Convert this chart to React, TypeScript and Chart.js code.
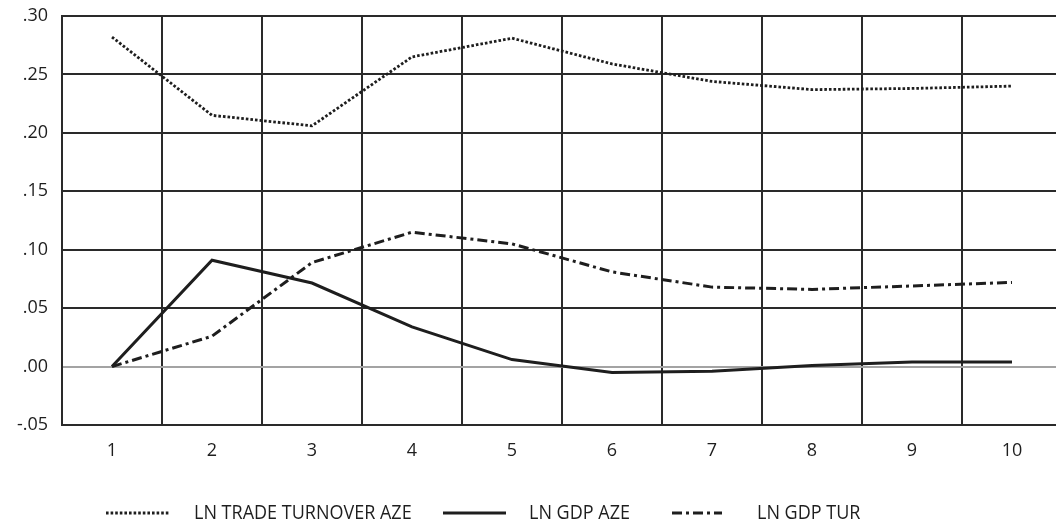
import React, { useEffect, useRef } from "react";
import { Chart, registerables } from "chart.js";

Chart.register(...registerables);

const categories = ["1", "2", "3", "4", "5", "6", "7", "8", "9", "10"];
const seriesNames = ["LN TRADE TURNOVER AZE", "LN GDP AZE", "LN GDP TUR"];
const tradeTurnoverAze = [0.282, 0.215, 0.206, 0.265, 0.281, 0.259, 0.244, 0.237, 0.238, 0.240];
const gdpAze = [0.0, 0.091, 0.0715, 0.034, 0.006, -0.005, -0.004, 0.001, 0.004, 0.004];
const gdpTur = [0.0, 0.026, 0.089, 0.115, 0.105, 0.081, 0.068, 0.066, 0.069, 0.072];
const yMin = -0.05;
const yMax = 0.3;
const yStep = 0.05;

const INK = "#1e1e1e";
const GRID = "#2a2a2a";
const ZERO = "#a3a3a3";
const TICK_FONT = { family: "'Open Sans', 'DejaVu Sans', sans-serif", size: 18 };

const legendSampleX = [106, 443, 672];
const legendSampleW = [64, 63, 50];
const legendTextX = [194, 529, 757];
const legendY = 513;
const legendTextScale = 0.9;

const fmtTick = (v: number) => {
  const s = (Math.round(v * 100) / 100).toFixed(2);
  return s.replace(/^(-?)0\./, "$1.");
};

const legendPlugin = {
  id: "customLegend",
  afterDraw(chart: any) {
    const ctx = chart.ctx;
    ctx.save();
    chart.data.datasets.forEach((ds: any, i: number) => {
      const x0 = legendSampleX[i];
      ctx.beginPath();
      ctx.strokeStyle = ds.borderColor;
      ctx.lineWidth = ds.borderWidth;
      ctx.setLineDash(ds.borderDash || []);
      ctx.lineCap = "butt";
      ctx.moveTo(x0, legendY);
      ctx.lineTo(x0 + legendSampleW[i], legendY);
      ctx.stroke();
      ctx.setLineDash([]);
      ctx.save();
      ctx.fillStyle = INK;
      ctx.font = "20px 'Open Sans', 'DejaVu Sans', sans-serif";
      ctx.textBaseline = "middle";
      ctx.textAlign = "left";
      ctx.translate(legendTextX[i], legendY);
      ctx.scale(legendTextScale, 1);
      ctx.fillText(ds.label, 0, 0);
      ctx.restore();
    });
    ctx.restore();
  },
};

export default function App() {
  const ref = useRef<HTMLCanvasElement | null>(null);

  useEffect(() => {
    if (!ref.current) return;
    const chart = new Chart(ref.current, {
      type: "line",
      data: {
        labels: categories,
        datasets: [
          {
            label: seriesNames[0],
            data: tradeTurnoverAze,
            borderColor: INK,
            borderWidth: 2.8,
            borderDash: [2.6, 2],
            pointRadius: 0,
            tension: 0,
            fill: false,
          },
          {
            label: seriesNames[1],
            data: gdpAze,
            borderColor: INK,
            borderWidth: 3,
            pointRadius: 0,
            tension: 0,
            fill: false,
          },
          {
            label: seriesNames[2],
            data: gdpTur,
            borderColor: INK,
            borderWidth: 3,
            borderDash: [10, 4, 3, 4],
            pointRadius: 0,
            tension: 0,
            fill: false,
          },
        ],
      },
      options: {
        animation: false,
        responsive: false,
        devicePixelRatio: 1,
        layout: { padding: { top: 16, right: 8, left: 0, bottom: 0 } },
        plugins: {
          legend: { display: false },
          tooltip: { enabled: false },
        },
        scales: {
          x: {
            type: "category",
            offset: true,
            grid: { offset: true, color: GRID, lineWidth: 2, drawTicks: false },
            border: { display: true, color: GRID, width: 2 },
            ticks: { color: INK, font: TICK_FONT, padding: 15, maxRotation: 0 },
            afterFit: (s: any) => {
              s.height = 102;
              s.paddingLeft = 0;
              s.paddingRight = 0;
            },
          },
          y: {
            min: yMin,
            max: yMax,
            grid: {
              color: (c: any) => (c.tick && Math.abs(c.tick.value) < 1e-9 ? ZERO : GRID),
              lineWidth: 2,
              drawTicks: false,
            },
            border: { display: true, color: GRID, width: 2 },
            ticks: {
              stepSize: yStep,
              color: INK,
              font: TICK_FONT,
              padding: 14,
              callback: (v: any) => fmtTick(Number(v)),
            },
            afterFit: (s: any) => {
              s.width = 62;
              s.paddingTop = 0;
              s.paddingBottom = 0;
            },
          },
        },
      },
      plugins: [legendPlugin],
    });
    return () => chart.destroy();
  }, []);

  return (
    <div
      style={{
        position: "fixed",
        top: 0,
        left: 0,
        width: 1056,
        height: 527,
        overflow: "hidden",
        background: "#fff",
      }}
    >
      <canvas ref={ref} width={1070} height={527} style={{ display: "block" }} />
    </div>
  );
}
